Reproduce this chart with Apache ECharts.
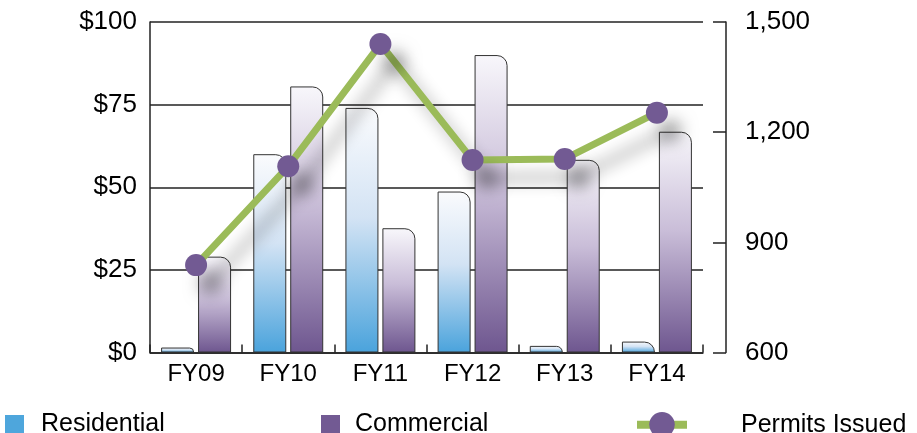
<!DOCTYPE html>
<html>
<head>
<meta charset="utf-8">
<script src="https://cdn.jsdelivr.net/npm/echarts@6/dist/echarts.min.js"></script>
<style>
  html, body { margin: 0; padding: 0; background: #fff; }
  #chart { width: 917px; height: 433px; }
</style>
</head>
<body>
<div id="chart"></div>
<script>
// Fiscal years on the category axis
const years = ['FY09', 'FY10', 'FY11', 'FY12', 'FY13', 'FY14'];
// Permit valuation in dollars (left axis)
const residential = [1.5, 60, 74, 48.7, 2, 3.3];
const commercial = [29, 80.5, 37.6, 90, 58.3, 66.8];
// Number of permits issued (right axis)
const permits = [838, 1107, 1440, 1124, 1127, 1253];
// Axis tick settings
const leftTicks = { min: 0, max: 100, interval: 25 };
const rightTicks = { min: 600, max: 1500, interval: 300 };

const FONT = '"Liberation Sans", Arial, sans-serif';
const BLUE = '#4ea6dc';
const PURPLE = '#725a93';
const GREEN = '#9bbb59';
const SHADOW = {
  shadowColor: 'rgba(0,0,0,0.32)', shadowBlur: 16, shadowOffsetX: 14, shadowOffsetY: 18
};

function grad(stops) {
  return new echarts.graphic.LinearGradient(0, 0, 0, 1,
    stops.map(s => ({ offset: s[0], color: s[1] })));
}

const chart = echarts.init(document.getElementById('chart'), null, { renderer: 'canvas' });

chart.setOption({
  animation: false,
  backgroundColor: '#fff',
  textStyle: { fontFamily: FONT },
  grid: { left: 150, right: 214, top: 22, bottom: 80.5, containLabel: false },
  legend: [
    {
      data: [{ name: 'Residential', itemStyle: { color: BLUE, borderWidth: 0 } }],
      left: 5, top: 412, padding: 0,
      itemWidth: 19, itemHeight: 19, icon: 'rect',
      textStyle: { fontFamily: FONT, fontSize: 25, color: '#000', padding: [0, 0, 0, 12] }
    },
    {
      data: [{ name: 'Commercial', itemStyle: { color: PURPLE, borderWidth: 0 } }],
      left: 321, top: 412, padding: 0,
      itemWidth: 19, itemHeight: 19, icon: 'rect',
      textStyle: { fontFamily: FONT, fontSize: 25, color: '#000', padding: [0, 0, 0, 10] }
    },
    {
      data: [{ name: 'Permits Issued', itemStyle: { color: PURPLE, shadowBlur: 0, shadowColor: 'transparent' } }],
      left: 633, top: 412, padding: 0,
      itemWidth: 50, itemHeight: 32,
      lineStyle: { width: 8, color: GREEN, shadowBlur: 0, shadowColor: 'transparent' },
      textStyle: { fontFamily: FONT, fontSize: 25, color: '#000', padding: [0, 0, 0, 49] }
    }
  ],
  xAxis: {
    type: 'category',
    data: years,
    boundaryGap: true,
    axisLine: { show: true, lineStyle: { color: '#222', width: 1.5 } },
    axisTick: { show: true, inside: true, length: 8, lineStyle: { color: '#222', width: 1.5 } },
    axisLabel: { fontFamily: FONT, fontSize: 24, color: '#000', margin: 10 },
    splitLine: { show: false }
  },
  yAxis: [
    {
      type: 'value',
      position: 'left',
      min: leftTicks.min, max: leftTicks.max, interval: leftTicks.interval,
      axisLine: { show: true, lineStyle: { color: '#222', width: 1.5 } },
      axisTick: { show: false },
      axisLabel: { fontFamily: FONT, fontSize: 26, color: '#000', margin: 13,
        formatter: v => '$' + v },
      splitLine: { show: true, lineStyle: { color: '#222', width: 1.5 } }
    },
    {
      type: 'value',
      position: 'right',
      offset: 23,
      min: rightTicks.min, max: rightTicks.max, interval: rightTicks.interval,
      axisLine: { show: true, lineStyle: { color: '#222', width: 1.5 } },
      axisTick: { show: true, inside: true, length: 13, lineStyle: { color: '#222', width: 1.5 } },
      axisLabel: { fontFamily: FONT, fontSize: 26, color: '#000', margin: 19,
        formatter: v => v.toLocaleString('en-US') },
      splitLine: { show: false }
    }
  ],
  series: [
    {
      name: 'Residential',
      type: 'bar',
      yAxisIndex: 0,
      data: residential,
      barWidth: 33,
      barGap: '12%',
      itemStyle: {
        color: grad([[0, '#fafbfd'], [0.45, '#d3e3f4'], [1, '#4aa3dc']]),
        borderColor: '#333',
        borderWidth: 1,
        borderRadius: [0, 10, 0, 0]
      },
      z: 2
    },
    {
      name: 'Commercial',
      type: 'bar',
      yAxisIndex: 0,
      data: commercial,
      barWidth: 33,
      barGap: '12%',
      itemStyle: {
        color: grad([[0, '#f8f7fb'], [0.45, '#c9bdd8'], [1, '#6e568f']]),
        borderColor: '#333',
        borderWidth: 1,
        borderRadius: [0, 10, 0, 0]
      },
      z: 2
    },
    {
      name: 'Permits Issued',
      type: 'line',
      yAxisIndex: 1,
      data: permits,
      symbol: 'circle',
      symbolSize: 22,
      lineStyle: Object.assign({ color: GREEN, width: 7 }, SHADOW),
      itemStyle: Object.assign({ color: PURPLE, borderWidth: 0 }, SHADOW),
      z: 5
    }
  ]
});
</script>
</body>
</html>
